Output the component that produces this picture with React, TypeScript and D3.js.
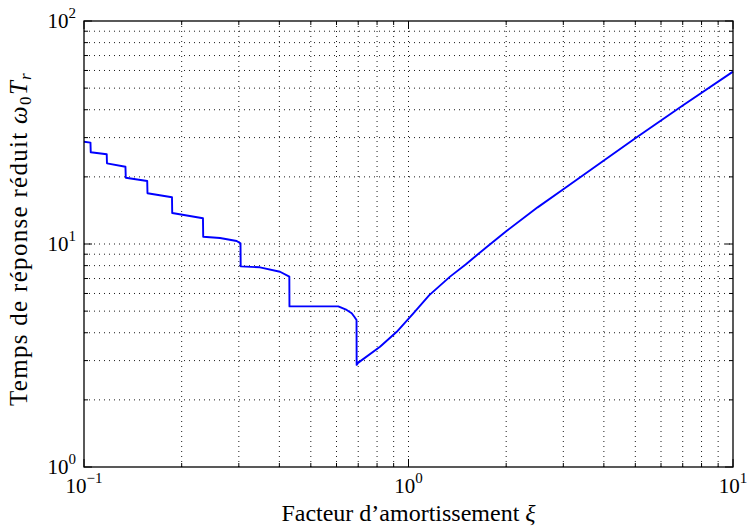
import React from 'react';
import * as d3 from 'd3';

// Damping factor ξ (x) and reduced response time ω0·Tr (y)
const xiValues = [
  0.1, 0.1047, 0.1049, 0.1175, 0.1177, 0.1342, 0.1345, 0.1566, 0.1569, 0.1867,
  0.187, 0.2326, 0.233, 0.2625, 0.2955, 0.3036, 0.304, 0.3486, 0.4018, 0.4293,
  0.4297, 0.6077, 0.6449, 0.6683, 0.6808, 0.6916, 0.6922, 0.699, 0.817, 0.92,
  1.035, 1.159, 1.343, 1.5, 1.75, 2.0, 2.5, 3.0, 4.0, 5.0, 7.0, 10,
];
const trValues = [
  28.75, 28.5, 25.78, 25.25, 23.0, 22.2, 19.83, 19.16, 16.88, 16.2,
  13.77, 13.04, 10.78, 10.64, 10.31, 10.07, 7.94, 7.86, 7.51, 7.14,
  5.25, 5.25, 5.06, 4.89, 4.72, 4.56, 2.87, 2.93, 3.46, 4.04,
  4.89, 5.9, 7.14, 8.1, 9.75, 11.4, 14.6, 17.6, 23.7, 29.8, 41.8, 59.3,
];

const xDomain = [0.1, 10];
const yDomain = [1, 100];
const xMajorTicks = [0.1, 1, 10];
const xTickExponents = ['\u22121', '0', '1'];
const yMajorTicks = [1, 10, 100];
const yTickExponents = ['0', '1', '2'];
const xAxisTitle = 'Facteur d\u2019amortissement ';
const yAxisTitle = 'Temps de r\u00e9ponse r\u00e9duit ';

const FONT = '"Liberation Serif", "DejaVu Serif", serif';

export default function App() {
  const W = 749;
  const H = 527;
  const L = 84, R = 733, T = 21, B = 467;
  const x = d3.scaleLog().domain(xDomain).range([L, R]);
  const y = d3.scaleLog().domain(yDomain).range([B, T]);

  const isMajor = (v: number) => Math.abs(Math.log10(v) - Math.round(Math.log10(v))) < 1e-9;
  const xAll = x.ticks();
  const yAll = y.ticks();

  const data = xiValues.map((v, i) => [v, trValues[i]] as [number, number]);
  const line = d3.line<[number, number]>().x(d => x(d[0])).y(d => y(d[1]));

  const majorLen = 8, minorLen = 4;

  return (
    <svg width={W} height={H} style={{ position: 'absolute', left: 0, top: 0, background: '#fff' }}>
      <rect x={0} y={0} width={W} height={H} fill="#fff" />
      {/* grid */}
      <g stroke="#000" strokeWidth={0.9} strokeDasharray="1,4" fill="none">
        {xAll.filter(v => v > xDomain[0] * 1.0001 && v < xDomain[1] * 0.9999).map((v, i) => (
          <line key={'gx' + i} x1={x(v)} x2={x(v)} y1={T} y2={B} />
        ))}
        {yAll.filter(v => v > yDomain[0] * 1.0001 && v < yDomain[1] * 0.9999).map((v, i) => (
          <line key={'gy' + i} x1={L} x2={R} y1={y(v)} y2={y(v)} />
        ))}
      </g>
      {/* ticks */}
      <g stroke="#000" strokeWidth={1}>
        {xAll.map((v, i) => {
          const len = isMajor(v) ? majorLen : minorLen;
          return (
            <g key={'tx' + i}>
              <line x1={x(v)} x2={x(v)} y1={B} y2={B - len} />
              <line x1={x(v)} x2={x(v)} y1={T} y2={T + len} />
            </g>
          );
        })}
        {yAll.map((v, i) => {
          const len = isMajor(v) ? majorLen : minorLen;
          return (
            <g key={'ty' + i}>
              <line x1={L} x2={L + len} y1={y(v)} y2={y(v)} />
              <line x1={R} x2={R - len} y1={y(v)} y2={y(v)} />
            </g>
          );
        })}
      </g>
      {/* curve */}
      <path d={line(data) || ''} fill="none" stroke="#0000ff" strokeWidth={1.9} strokeLinejoin="round" />
      {/* frame */}
      <rect x={L} y={T} width={R - L} height={B - T} fill="none" stroke="#000" strokeWidth={1.3} />
      {/* x tick labels */}
      <g fontFamily={FONT} fill="#000">
        {xMajorTicks.map((v, i) => (
          <text key={'xl' + i} x={x(v)} y={B + 26} textAnchor="middle" fontSize={21}>
            <tspan>10</tspan>
            <tspan dy={-10} fontSize={15}>{xTickExponents[i]}</tspan>
          </text>
        ))}
        {yMajorTicks.map((v, i) => (
          <text key={'yl' + i} x={L - 8} y={y(v) + 7} textAnchor="end" fontSize={21}>
            <tspan>10</tspan>
            <tspan dy={-10} fontSize={15}>{yTickExponents[i]}</tspan>
          </text>
        ))}
        <text x={(L + R) / 2} y={521} textAnchor="middle" fontSize={24}>
          {xAxisTitle}
          <tspan fontStyle="italic">{'\u03be'}</tspan>
        </text>
        <text transform={`translate(27, 239) rotate(-90)`} textAnchor="middle" fontSize={25} letterSpacing={1.3}>
          {yAxisTitle}
          <tspan fontStyle="italic">{'\u03c9'}</tspan>
          <tspan dy={4} fontSize={17}>0</tspan>
          <tspan dy={-4} fontStyle="italic">T</tspan>
          <tspan dy={4} fontSize={17} fontStyle="italic">r</tspan>
        </text>
      </g>
    </svg>
  );
}
